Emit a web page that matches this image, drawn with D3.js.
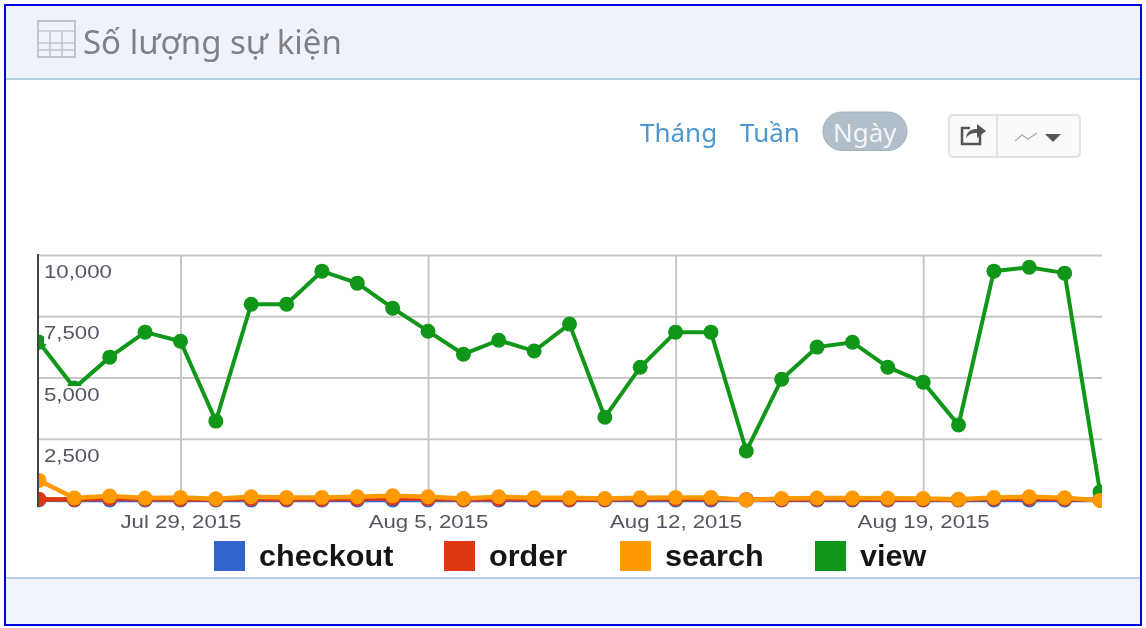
<!DOCTYPE html>
<html><head><meta charset="utf-8">
<script src="https://cdn.jsdelivr.net/npm/d3@7"></script>
<style>html,body{margin:0;padding:0;background:#fff;overflow:hidden}svg{display:block;filter:blur(0.45px)}</style>
</head><body><svg id="c" width="1146" height="628"></svg>
<script>
const startDate = new Date(2015, 6, 25);
const endDate = new Date(2015, 7, 24);
const yTicks = [2500, 5000, 7500, 10000];
const xTicks = [new Date(2015,6,29), new Date(2015,7,5), new Date(2015,7,12), new Date(2015,7,19)];
const seriesNames = ["checkout","order","search","view"];
const seriesColors = ["#3366cc","#dc3912","#ff9900","#109618"];
const checkout = [10,5,5,5,5,5,5,5,5,5,5,5,5,5,5,5,5,5,5,5,5,5,5,5,5,5,5,5,5,5,5];
const order = [30,20,60,30,35,20,50,35,35,50,70,50,20,45,30,25,25,40,45,50,10,20,30,30,20,20,10,50,60,45,5];
const search = [800,80,160,80,100,50,130,100,100,130,170,130,60,130,90,90,60,90,100,100,0,60,80,80,70,60,30,100,130,90,-20];
const view = [6440,4570,5830,6850,6480,3220,7990,7990,9340,8850,7830,6890,5950,6520,6080,7180,3380,5420,6850,6850,2000,4930,6240,6440,5420,4810,3060,9340,9500,9260,330];
const seriesValues = [checkout, order, search, view];

const svg = d3.select("#c");
const x = d3.scaleTime().domain([startDate, endDate]).range([39, 1100]);
const y = d3.scaleLinear().domain([0, 10000]).range([500, 255]);
const dates = d3.timeDay.range(startDate, d3.timeDay.offset(endDate, 1));
// widen glyphs horizontally, as the stretched reference does
function widen(sel, factor){ sel.each(function(){ const n=this.getComputedTextLength(); d3.select(this).attr("textLength",n*factor).attr("lengthAdjust","spacingAndGlyphs"); }); }

// panel
svg.append("rect").attr("x",5).attr("y",5).attr("width",1136).attr("height",620).attr("fill","#fff");
svg.append("rect").attr("x",5).attr("y",5).attr("width",1136).attr("height",73).attr("fill","#eef2fb");
svg.append("rect").attr("x",5).attr("y",78).attr("width",1136).attr("height",2).attr("fill","#b5d0e4");
svg.append("rect").attr("x",5).attr("y",579).attr("width",1136).attr("height",46).attr("fill","#f0f4fa");
svg.append("rect").attr("x",5).attr("y",577).attr("width",1136).attr("height",2).attr("fill","#b5d0e4");
svg.append("rect").attr("x",5).attr("y",5).attr("width",1136).attr("height",620).attr("fill","none").attr("stroke","#0000e0").attr("stroke-width",2);

// title
const ico = svg.append("g").attr("fill","none").attr("stroke","#c4c4c8").attr("stroke-width",1.5);
ico.append("rect").attr("x",38).attr("y",21).attr("width",37).attr("height",36).attr("stroke-width",2);
[31,43,50].forEach(v=>ico.append("line").attr("x1",38).attr("x2",75).attr("y1",v).attr("y2",v));
[50,62].forEach(v=>ico.append("line").attr("x1",v).attr("x2",v).attr("y1",31).attr("y2",57));
svg.append("text").attr("x",83).attr("y",54).attr("font-family","'Noto Sans'").attr("font-size",33).attr("fill","#808085").text("Số lượng sự kiện");

// controls
const ctl = svg.append("g").attr("font-family","'Noto Sans'").attr("font-size",26);
ctl.append("text").attr("x",640).attr("y",142).attr("fill","#4d97cf").text("Tháng");
ctl.append("text").attr("x",740).attr("y",142).attr("fill","#4d97cf").text("Tuần");
ctl.append("rect").attr("x",823).attr("y",112).attr("width",84).attr("height",38.5).attr("rx",19).attr("fill","#b1bfca").attr("stroke","#a5b3be");
ctl.append("text").attr("x",833).attr("y",142).attr("fill","#f2f4f6").text("Ngày");
svg.append("rect").attr("x",949).attr("y",115).attr("width",131).attr("height",42).attr("rx",4).attr("fill","#fafafa").attr("stroke","#e2e2e2").attr("stroke-width",2);
svg.append("line").attr("x1",997).attr("x2",997).attr("y1",115).attr("y2",157).attr("stroke","#e2e2e2").attr("stroke-width",2);
svg.append("path").attr("d","M980 130 V144 H962 V128 H970").attr("fill","none").attr("stroke","#555").attr("stroke-width",2.5);
svg.append("path").attr("d","M966 138 C967 130 973 129 977 129 V124 L986 131 L977 138 V133 C972 133 969 134 966 138Z").attr("fill","#555");
svg.append("path").attr("d","M1015 141 L1022 135 L1028 139 L1037 133").attr("fill","none").attr("stroke","#b5b5b5").attr("stroke-width",1.5);
svg.append("path").attr("d","M1045 134 H1061 L1053 142Z").attr("fill","#555");

// grid
const gridX = svg.append("g").attr("transform","translate(0,500)").call(d3.axisBottom(x).tickValues(xTicks).tickSize(-245).tickFormat(d3.timeFormat("%b %-d, %Y")));
gridX.select(".domain").remove();
gridX.selectAll("line").attr("stroke","#c8c8c8").attr("stroke-width",2);
gridX.selectAll("text").attr("y",28).attr("dy",0).attr("font-family","'Liberation Sans'").attr("font-size",18.5).attr("fill","#555560").call(widen,1.2);
const gridY = svg.append("g").attr("transform","translate(39,0)").call(d3.axisLeft(y).tickValues(yTicks.concat([0])).tickSize(-1063).tickFormat(""));
gridY.select(".domain").remove();
gridY.selectAll("line").attr("stroke","#c8c8c8").attr("stroke-width",2);

// series
svg.append("defs").append("clipPath").attr("id","plot").append("rect").attr("x",38).attr("y",250).attr("width",1064).attr("height",258);
const plot = svg.append("g").attr("clip-path","url(#plot)");
const line = d3.line().x((d,i)=>x(dates[i])).y(d=>y(d));
[0,1,3,2].forEach(k=>{
  const g = plot.append("g");
  g.append("path").datum(seriesValues[k]).attr("d",line).attr("fill","none").attr("stroke",seriesColors[k]).attr("stroke-width",k===3?4:4.5);
  g.selectAll("circle").data(seriesValues[k]).join("circle").attr("cx",(d,i)=>x(dates[i])).attr("cy",d=>y(d)).attr("r",7.5).attr("fill",seriesColors[k]);
});

// y axis line and labels
svg.append("line").attr("x1",38).attr("x2",38).attr("y1",254).attr("y2",507).attr("stroke","#444").attr("stroke-width",2);
const yl = svg.append("g").selectAll("g").data(yTicks).join("g");
yl.append("rect").attr("x",44).attr("y",d=>y(d)+8.5).attr("width",d=>d>=10000?70:56).attr("height",19).attr("fill","#fff").attr("fill-opacity",d=>d===2500||d===10000?0:1);
yl.append("text")
  .attr("x",44).attr("y",d=>y(d)+23)
  .attr("font-family","'Liberation Sans'").attr("font-size",18.5).attr("fill","#555560")
  .text(d3.format(",")).call(widen,1.2);

// legend
const legendX = [214,444,620,815];
const lg = svg.append("g").selectAll("g").data(seriesNames).join("g").attr("transform",(d,i)=>`translate(${legendX[i]},541)`);
lg.append("rect").attr("width",31).attr("height",30).attr("fill",(d,i)=>seriesColors[i]);
lg.append("text").attr("x",45).attr("y",25).attr("font-family","'Liberation Sans'").attr("font-weight","bold").attr("font-size",29).attr("fill","#151515").text(d=>d).call(widen,1.055);
</script></body></html>
